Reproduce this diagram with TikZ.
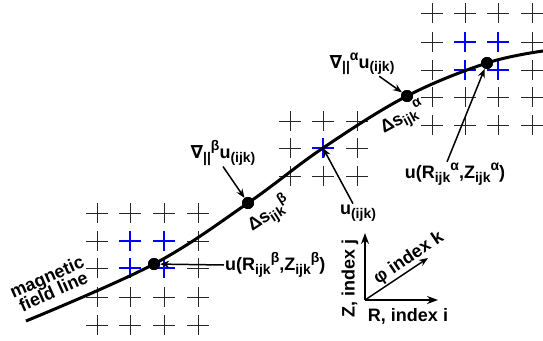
\documentclass[tikz,border=0pt]{standalone}
\usepackage{fontspec}
\setmainfont{Liberation Sans}
\newfontfamily\symfont{DejaVu Sans}
\usetikzlibrary{arrows.meta}
\tikzstyle{dot}=[shape=circle, minimum size=12pt, inner sep=0, fill=black]
\tikzstyle{lbl}=[font=\fontsize{18}{20}\selectfont\bfseries, inner sep=1pt]
\tikzstyle{pointer}=[line width=1.5pt, -{Stealth[length=9pt,width=7pt]}]
\tikzstyle{axis}=[line width=2.5pt, -{Stealth[length=11pt,width=8pt]}]
\tikzstyle{fieldline}=[line width=3pt]
\tikzstyle{gridcross}=[line width=0.9pt, black!85]
\tikzstyle{bluecross}=[line width=2.6pt, blue]
\newcommand{\lo}[1]{\raisebox{-.4ex}{\fontsize{14}{14}\selectfont #1}}
\newcommand{\hi}[1]{\raisebox{.8ex}{\fontsize{14}{14}\selectfont #1}}

\begin{document}
\begin{tikzpicture}[x=1pt,y=-1pt]
\useasboundingbox (0,0) rectangle (543,340);
% grids
\foreach \x in {97,130,164,198} \foreach \y in {213,241,268,297,325}
  \draw[gridcross] (\x-11,\y)--(\x+11,\y) (\x,\y-10)--(\x,\y+10);
\foreach \x in {290,323,357} \foreach \y in {121,148,176}
  \draw[gridcross] (\x-11,\y)--(\x+11,\y) (\x,\y-10)--(\x,\y+10);
\foreach \x in {432,465,498,532} \foreach \y in {13,42,70,97,125}
  \draw[gridcross] (\x-11,\y)--(\x+11,\y) (\x,\y-10)--(\x,\y+10);
\foreach \x/\y in {130/241,164/241,130/268,164/268,323/148,465/42,498/42,465/70,498/70}
  \draw[bluecross] (\x-11,\y)--(\x+11,\y) (\x,\y-10)--(\x,\y+10);
% field line
\coordinate (s) at (26,321);
\coordinate (uc) at (323,148);
\coordinate (e) at (543,51);
\node at (154,264)[dot](d1){};
\node at (248,203)[dot](d2){};
\node at (407,96)[dot](d3){};
\node at (487,63)[dot](d4){};
\draw[fieldline] plot[smooth, tension=.6] coordinates {(s) (d1.center) (d2.center) (uc) (d3.center) (d4.center) (e)};
\node at (d1)[dot]{};
\node at (d2)[dot]{};
\node at (d3)[dot]{};
\node at (d4)[dot]{};
% labels
\node at (50,284)[lbl, rotate=24, align=center](mf){magnetic\\[-4pt]field line};
\node at (223,153)[lbl](gb){{\symfont ∇}\lo{||}\hi{β}u\lo{(ijk)}};
\node at (362,64)[lbl](ga){{\symfont ∇}\lo{||}\hi{α}u\lo{(ijk)}};
\node at (269,214)[lbl, rotate=33](dsb){Δs\lo{ijk}\hi{β}};
\node at (403,119)[lbl, rotate=28](dsa){Δs\lo{ijk}\hi{α}};
\node at (358,213)[lbl](uu){u\lo{(ijk)}};
\node at (224,265)[lbl, anchor=west](urb){u(R\lo{ijk}\hi{β},Z\lo{ijk}\hi{β})};
\node at (455,174)[lbl](ura){u(R\lo{ijk}\hi{α},Z\lo{ijk}\hi{α})};
\draw[pointer] (gb.south) -- (d2);
\draw[pointer] (ga) -- (d3);
\draw[pointer] (uu) -- (uc);
\draw[pointer] ([xshift=-8pt]ura.north) -- (d4);
\draw[pointer] (urb.west) -- (d1);
% axes
\coordinate (o) at (365,300);
\coordinate (zt) at (365,233);
\coordinate (rt) at (438,300);
\coordinate (kt) at (428,258);
\draw[axis] (o) -- (zt);
\draw[axis] (o) -- (rt);
\draw[line width=1.5pt, -{Stealth[length=9pt,width=7pt]}] (o) -- (kt);
\node at (350,278)[lbl, rotate=90](zl){Z, index j};
\node at (408,316)[lbl](rl){R, index i};
\node at (409,258)[lbl, rotate=34](kl){φ index k};
\end{tikzpicture}
\end{document}
